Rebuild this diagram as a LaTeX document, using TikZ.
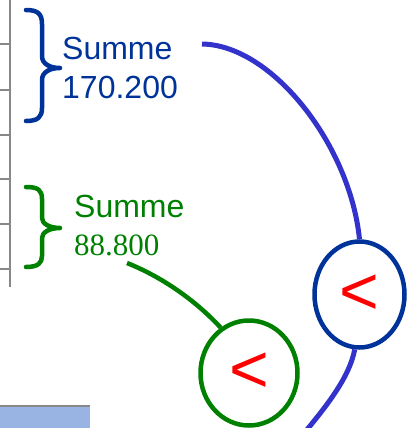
\documentclass[tikz,border=0pt]{standalone}
\usepackage{fontspec}
\setmainfont{Liberation Sans}
\newfontfamily\numserif{Liberation Serif}
\usetikzlibrary{shapes.geometric}
\definecolor{sumblue}{HTML}{003399}
\definecolor{linkblue}{HTML}{3333CC}
\definecolor{sumgreen}{HTML}{008000}
\definecolor{gridgray}{HTML}{888888}
\definecolor{barblue}{HTML}{99B3E3}
\begin{document}
\begin{tikzpicture}[x=1pt,y=-1pt,
  lbl/.style={inner sep=0pt, anchor=base west, font=\fontsize{32}{32}\selectfont},
  cmp/.style={ellipse, draw, line width=4.5pt, inner sep=0pt, text=red,
              font=\fontsize{68}{68}\selectfont},
  bracestroke/.style={line width=4.5pt, line cap=round, line join=round},
  link/.style={line width=5pt},
  grid/.style={gridgray, line width=2pt}
]
\useasboundingbox (0,0) rectangle (408,428);

% edge of the table with its row separators
\draw[grid] (10,0) -- (10,287);
\foreach \y in {44.5,89.5,135,179,224,269}
  \draw[grid] (0,\y) -- (10,\y);

% shaded bar at the bottom
\fill[barblue] (0,406) rectangle (90,428);
\draw[grid] (0,406) -- (90,406);

% braces grouping the rows
\draw[bracestroke, sumblue] (26,10) .. controls (38,10) and (42,14) .. (42,24)
  -- (42,56) .. controls (42,64) and (50,68) .. (60,68)
  .. controls (50,68) and (42,72) .. (42,80)
  -- (42,108) .. controls (42,117) and (38,121) .. (26,121);
\draw[bracestroke, sumgreen] (26,187) .. controls (38,187) and (42,190) .. (42,199)
  -- (42,218) .. controls (42,224) and (50,228) .. (60,228)
  .. controls (50,228) and (42,232) .. (42,238)
  -- (42,256) .. controls (42,263) and (38,267) .. (26,267);

% sums
\node[lbl, text=sumblue] (sumA) at (62,59.5) {Summe};
\node[lbl, text=sumblue] (valA) at (62,98) {170.200};
\node[lbl, text=sumgreen] (sumG) at (74,217) {Summe};
\node[lbl, text=sumgreen, font=\fontsize{31}{31}\numserif] (valG) at (74,255) {88.800};

% comparisons
\node[cmp, draw=sumblue, minimum width=90pt, minimum height=106pt]
  (cmpA) at (359.5,294.5) {\raisebox{-4pt}{<}};
\node[cmp, draw=sumgreen, minimum width=97pt, minimum height=105pt]
  (cmpG) at (249,373) {\raisebox{-4pt}{<}};

% connectors
\coordinate (startA) at (202,44);
\coordinate (endA) at (305,432);
\coordinate (startG) at (127,263);
\draw[link, linkblue] (startA) .. controls (272,45) and (350,145) .. (cmpA.north);
\draw[link, linkblue] (cmpA.-95) .. controls (350,375) and (330,402) .. (endA);
\draw[link, sumgreen, line width=4.5pt] (startG) .. controls (162,277) and (195,300) .. (cmpG.122);
\end{tikzpicture}
\end{document}
